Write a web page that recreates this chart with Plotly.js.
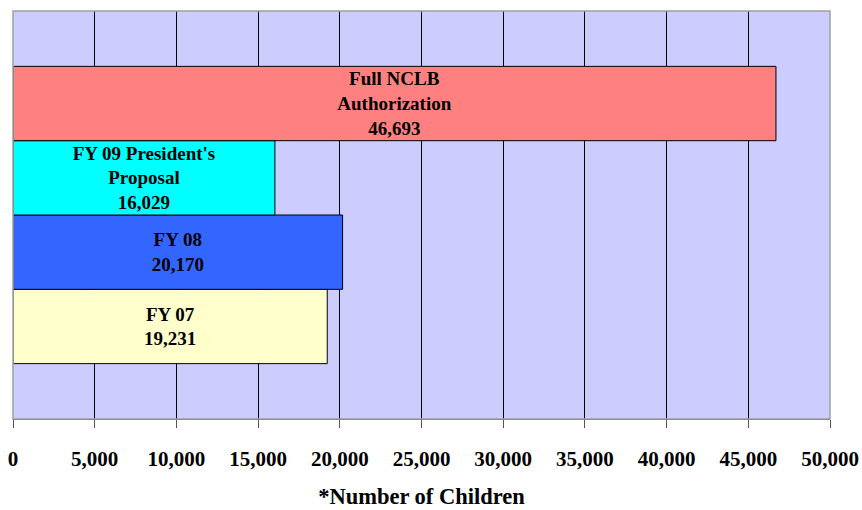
<!DOCTYPE html>
<html>
<head>
<meta charset="utf-8">
<script src="https://cdn.plot.ly/plotly-3.0.1.min.js"></script>
<style>html,body{margin:0;padding:0;background:#fff;}#chart{width:862px;height:510px;}</style>
</head>
<body>
<div id="chart"></div>
<script>
// Data (bottom to top)
var labels = ["FY 07", "FY 08", "FY 09 President's<br>Proposal", "Full NCLB<br>Authorization"];
var values = [19231, 20170, 16029, 46693];
var colors = ["#FFFFCC", "#3366FF", "#00FFFF", "#FF8080"];
var tickVals = [0, 5000, 10000, 15000, 20000, 25000, 30000, 35000, 40000, 45000, 50000];
var tickText = ["0", "5,000", "10,000", "15,000", "20,000", "25,000", "30,000", "35,000", "40,000", "45,000", "50,000"];
var axisTitle = "*Number of Children";

var serif = "'Liberation Serif', 'Times New Roman', serif";

var traces = labels.map(function (lab, i) {
  return {
    type: "bar",
    orientation: "h",
    x: [values[i]],
    y: ["All"],
    name: lab,
    marker: { color: colors[i], line: { color: "#000000", width: 1 } },
    text: [lab + "<br>" + values[i].toLocaleString("en-US")],
    textposition: "inside",
    insidetextanchor: "middle",
    constraintext: "none",
    textangle: 0,
    insidetextfont: { family: serif, size: 19, color: "#000000", weight: "bold" },
    hoverinfo: "skip"
  };
});

var layout = {
  width: 862,
  height: 510,
  margin: { l: 13, r: 32, t: 10.5, b: 91 },
  paper_bgcolor: "#ffffff",
  plot_bgcolor: "#CCCCFF",
  barmode: "group",
  bargap: 0.2714,
  bargroupgap: 0,
  showlegend: false,
  font: { family: serif, color: "#000000" },
  xaxis: {
    range: [0, 50000],
    tickvals: tickVals,
    ticktext: tickText,
    showgrid: true,
    gridcolor: "#000000",
    gridwidth: 1,
    zeroline: false,
    showline: true,
    linecolor: "#555555",
    linewidth: 1,
    ticks: "outside",
    ticklen: 8,
    tickcolor: "#555555",
    ticklabelstandoff: 13,
    tickfont: { family: serif, size: 21, color: "#000000", weight: "bold" },
    title: { text: axisTitle, font: { family: serif, size: 22.5, color: "#000000", weight: "bold" }, standoff: 18 },
    fixedrange: true
  },
  yaxis: {
    showticklabels: false,
    showgrid: false,
    zeroline: false,
    ticks: "",
    fixedrange: true
  },
  shapes: [
    { type: "rect", xref: "paper", yref: "paper", x0: 0, x1: 1, y0: 0, y1: 1, line: { color: "#A0A0A0", width: 1.5 }, fillcolor: "rgba(0,0,0,0)", layer: "above" }
  ]
};

Plotly.newPlot("chart", traces, layout, { staticPlot: true, displayModeBar: false });
</script>
</body>
</html>
